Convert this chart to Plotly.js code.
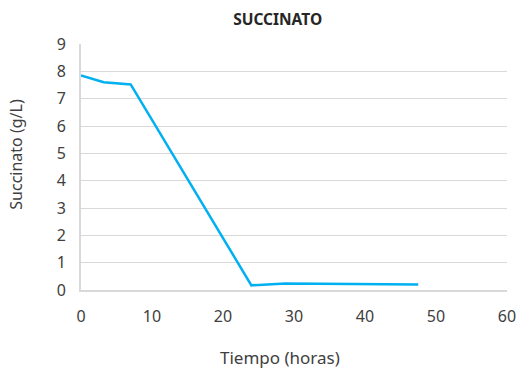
<!DOCTYPE html>
<html>
<head>
<meta charset="utf-8">
<script src="https://cdn.plot.ly/plotly-3.0.1.min.js"></script>
<style>html,body{margin:0;padding:0;background:#fff;}#chart{width:518px;height:371px;}</style>
</head>
<body>
<div id="chart"></div>
<script>
const tiempo = [0, 3.2, 7, 24, 28.8, 47.5];
const succinato = [7.85, 7.6, 7.52, 0.17, 0.24, 0.2];
const xTicks = [0, 10, 20, 30, 40, 50, 60];
const yTicks = [0, 1, 2, 3, 4, 5, 6, 7, 8, 9];

const font = "Noto Sans, Open Sans, sans-serif";
const trace = {
  x: tiempo, y: succinato, type: 'scatter', mode: 'lines',
  line: {color: '#00b0f0', width: 2.5}, hoverinfo: 'skip'
};
const layout = {
  width: 518, height: 371,
  margin: {l: 81, r: 11, t: 44, b: 81},
  paper_bgcolor: '#fff', plot_bgcolor: '#fff',
  showlegend: false,
  font: {family: font, color: '#404040', size: 16},
  title: {text: '<b>SUCCINATO</b>', font: {family: font, size: 15.5, color: '#262626'}, x: 0.536, xanchor: 'center', y: 0.948, yanchor: 'middle'},
  xaxis: {
    range: [0, 60], tickvals: xTicks, ticktext: xTicks.map(String),
    showgrid: false, zeroline: false, showline: true, linecolor: '#d9d9d9', linewidth: 2,
    ticks: 'outside', ticklen: 11, tickcolor: 'rgba(0,0,0,0)',
    tickfont: {size: 16, color: '#404040'},
    automargin: false
  },
  yaxis: {
    range: [0, 9], tickvals: yTicks, ticktext: yTicks.map(String),
    showgrid: true, gridcolor: '#d9d9d9', gridwidth: 1,
    zeroline: false, showline: true, linecolor: '#d9d9d9', linewidth: 2,
    ticks: 'outside', ticklen: 10, tickcolor: 'rgba(0,0,0,0)',
    tickfont: {size: 16, color: '#404040'},
    automargin: false
  },
  annotations: [
    {text: 'Tiempo (horas)', xref: 'paper', yref: 'paper', x: 0.466, y: -0.274,
     xanchor: 'center', yanchor: 'middle', showarrow: false, font: {size: 17, color: '#404040'}},
    {text: 'Succinato (g/L)', xref: 'paper', yref: 'paper', x: -0.1526, y: 0.554,
     xanchor: 'center', yanchor: 'middle', textangle: -90, showarrow: false, font: {size: 16, color: '#404040'}}
  ]
};
Plotly.newPlot('chart', [trace], layout, {staticPlot: true, displayModeBar: false});
</script>
</body>
</html>
